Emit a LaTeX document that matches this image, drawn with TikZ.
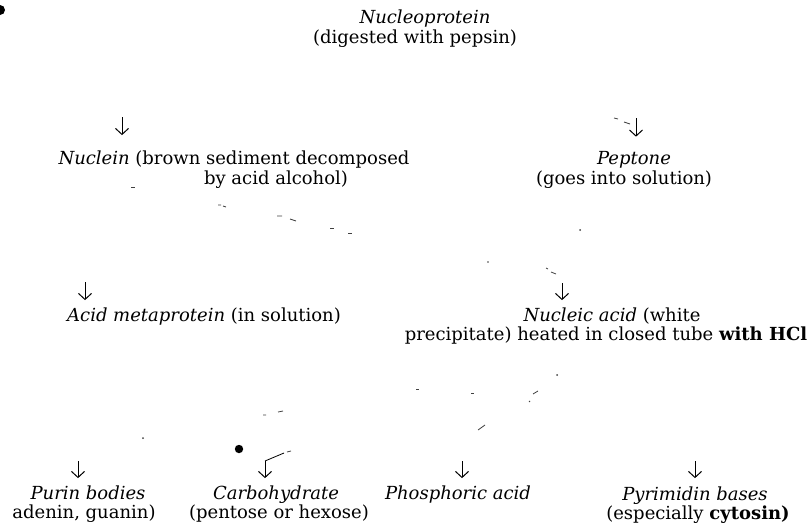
\documentclass[tikz,border=0pt]{standalone}
\usepackage{fontspec}
\setmainfont{DejaVu Serif}
\usetikzlibrary{arrows.meta}
\begin{document}
\begin{tikzpicture}[x=1pt,y=-1pt,
  lbl/.style={inner sep=0pt, anchor=base, font=\fontsize{18}{21}\selectfont},
  down/.style={-{Straight Barb[length=6pt,width=13pt]}, line width=1pt},
  speck/.style={line width=0.8pt, black!75}]
\useasboundingbox (0,0) rectangle (810,525);
% texts
\node[lbl] (nucleo)  at (425,23) {\itshape Nucleoprotein};
\node[lbl] (pepsin)  at (415,43) {(digested with pepsin)};
\node[lbl] (nuclein) at (234,164) {\textit{Nuclein} (brown sediment decomposed};
\node[lbl] (nuclein2) at (276,184) {by acid alcohol)};
\node[lbl] (peptone) at (634,164) {\itshape Peptone};
\node[lbl] (goes)    at (624,184) {(goes into solution)};
\node[lbl] (acidmeta) at (204,321) {\textit{Acid metaprotein} (in solution)};
\node[lbl] (nucleic) at (612,321) {\textit{Nucleic acid} (white};
\node[lbl] (precip)  at (606,340) {precipitate) heated in closed tube \textbf{with HCl}};
\node[lbl] (purin)   at (88,499)  {\itshape Purin bodies};
\node[lbl] (adenin)  at (84,518)  {adenin, guanin)};
\node[lbl] (carbo)   at (276,499) {\itshape Carbohydrate};
\node[lbl] (pentose) at (279,518) {(pentose or hexose)};
\node[lbl] (phosph)  at (458,499) {\itshape Phosphoric acid};
\node[lbl] (pyrim)   at (695,500) {\itshape Pyrimidin bases};
\node[lbl] (espec)   at (698,519) {(especially \textbf{cytosin)}};
% arrow tops
\coordinate (aNuclein) at (122,117);
\coordinate (aPeptone) at (636,118);
\coordinate (aAcid)    at (85,282);
\coordinate (aNucleic) at (562,283);
\coordinate (aPurin)   at (78,461);
\coordinate (aCarbo)   at (265,461);
\coordinate (aPhosph)  at (462,461);
\coordinate (aPyrim)   at (695,461);
\draw[down, shorten >=15pt] (aNuclein) -- (aNuclein |- nuclein.north);
\draw[down, shorten >=14pt] (aPeptone) -- (aPeptone |- peptone.north);
\draw[down, shorten >=7pt] (aAcid)    -- (aAcid |- acidmeta.north);
\draw[down, shorten >=7pt] (aNucleic) -- (aNucleic |- nucleic.north);
\draw[down, shorten >=7pt] (aPurin)   -- (aPurin |- purin.north);
\draw[down, shorten >=7pt] (aCarbo)   -- (aCarbo |- carbo.north);
\draw[down, shorten >=7pt] (aPhosph)  -- (aPhosph |- phosph.north);
\draw[down, shorten >=8pt] (aPyrim)   -- (aPyrim |- pyrim.north);
% faint remains of connectors
\coordinate (cEnd) at (284,453);
\draw[line width=0.8pt] (aCarbo) -- (cEnd);
\draw[speck] (287,452) -- (291,451);
\fill (239,449) circle (4.2);
\fill (0,10) circle (5);
\draw[speck] (614,118) -- (618,119) (624,122) -- (630,124);
\draw[speck] (131,187) -- (135,187);
\draw[speck] (218,205) -- (221,205) (223,206) -- (226,207);
\draw[speck] (277,216) -- (282,216) (290,219) -- (296,221);
\draw[speck] (330,228) -- (334,228) (348,233) -- (352,233);
\fill[black!75] (580,230) circle (1);
\fill[black!75] (488,262) circle (0.9);
\draw[speck] (546,268) -- (548,269) (551,272) -- (556,274);
\fill[black!75] (143,438) circle (1);
\draw[speck] (263,415) -- (266,415) (278,412) -- (283,411);
\draw[speck] (416,389) -- (419,389) (471,393) -- (474,393);
\draw[speck] (529,402) -- (530,401) (533,394) -- (538,391);
\fill[black!75] (557,375) circle (1);
\draw[speck] (478,430) -- (485,425);
\end{tikzpicture}
\end{document}
